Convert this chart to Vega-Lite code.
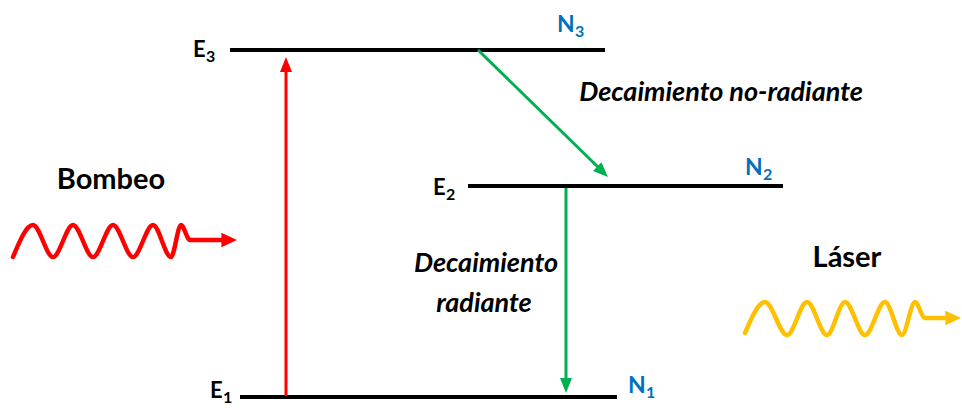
{
  "$schema": "https://vega.github.io/schema/vega-lite/v6.json",
  "width": 962,
  "height": 410,
  "padding": 0,
  "autosize": {"type": "none"},
  "background": "white",
  "config": {"view": {"stroke": null}},
  "datasets": {
    "niveles": [
      {"nivel": "E3", "x": 230, "y": 50, "x2": 605, "y2": 50},
      {"nivel": "E2", "x": 468, "y": 186, "x2": 783, "y2": 186},
      {"nivel": "E1", "x": 240, "y": 397, "x2": 617, "y2": 397}
    ],
    "flechas": [
      {"flecha": "Bombeo", "tipo": "bombeo", "x": 286, "y": 396, "x2": 286, "y2": 69},
      {"flecha": "Decaimiento no-radiante", "tipo": "decaimiento", "x": 478, "y": 50, "x2": 599, "y2": 168},
      {"flecha": "Decaimiento radiante", "tipo": "decaimiento", "x": 566, "y": 188, "x2": 566, "y2": 381}
    ],
    "puntas": [
      {"flecha": "Bombeo", "tipo": "bombeo", "x": 286, "y": 57, "dir": "arriba"},
      {"flecha": "Decaimiento no-radiante", "tipo": "decaimiento", "x": 608, "y": 177, "dir": "diagonal"},
      {"flecha": "Decaimiento radiante", "tipo": "decaimiento", "x": 566, "y": 393, "dir": "abajo"},
      {"flecha": "Onda bombeo", "tipo": "bombeo", "x": 237, "y": 240, "dir": "derecha"},
      {"flecha": "Onda láser", "tipo": "laser", "x": 961, "y": 318, "dir": "derecha"}
    ],
    "ondas": [
      {"tipo": "bombeo", "x": 13, "y": 257},
      {"tipo": "bombeo", "x": 33, "y": 225},
      {"tipo": "bombeo", "x": 53, "y": 257},
      {"tipo": "bombeo", "x": 73, "y": 225},
      {"tipo": "bombeo", "x": 93, "y": 257},
      {"tipo": "bombeo", "x": 113, "y": 225},
      {"tipo": "bombeo", "x": 133, "y": 257},
      {"tipo": "bombeo", "x": 153, "y": 225},
      {"tipo": "bombeo", "x": 171, "y": 257},
      {"tipo": "bombeo", "x": 181, "y": 225},
      {"tipo": "bombeo", "x": 190, "y": 240},
      {"tipo": "bombeo", "x": 226, "y": 240},
      {"tipo": "laser", "x": 745, "y": 333},
      {"tipo": "laser", "x": 765, "y": 302},
      {"tipo": "laser", "x": 787, "y": 335},
      {"tipo": "laser", "x": 807, "y": 302},
      {"tipo": "laser", "x": 827, "y": 335},
      {"tipo": "laser", "x": 845, "y": 302},
      {"tipo": "laser", "x": 865, "y": 335},
      {"tipo": "laser", "x": 885, "y": 302},
      {"tipo": "laser", "x": 902, "y": 335},
      {"tipo": "laser", "x": 915, "y": 302},
      {"tipo": "laser", "x": 925, "y": 318},
      {"tipo": "laser", "x": 950, "y": 318}
    ],
    "etiquetas": [
      {"clase": "E", "letra": "E", "sub": "3", "x": 193, "y": 57},
      {"clase": "E", "letra": "E", "sub": "2", "x": 433, "y": 195},
      {"clase": "E", "letra": "E", "sub": "1", "x": 210, "y": 398},
      {"clase": "N", "letra": "N", "sub": "3", "x": 557, "y": 32},
      {"clase": "N", "letra": "N", "sub": "2", "x": 745, "y": 175},
      {"clase": "N", "letra": "N", "sub": "1", "x": 628, "y": 393}
    ],
    "titulos": [
      {"texto": "Bombeo", "x": 111, "y": 189},
      {"texto": "Láser", "x": 847, "y": 267}
    ],
    "procesos": [
      {"texto": "Decaimiento no-radiante", "x": 721, "y": 101},
      {"texto": "Decaimiento", "x": 486, "y": 272},
      {"texto": "radiante", "x": 484, "y": 312}
    ]
  },
  "encoding": {
    "x": {"field": "x", "type": "quantitative", "scale": {"domain": [0, 962], "nice": false, "zero": false}, "axis": null},
    "y": {"field": "y", "type": "quantitative", "scale": {"domain": [0, 410], "nice": false, "zero": false, "reverse": true}, "axis": null}
  },
  "layer": [
    {
      "data": {"name": "niveles"},
      "mark": {"type": "rule", "color": "#000000", "strokeWidth": 4},
      "encoding": {"x2": {"field": "x2"}, "y2": {"field": "y2"}}
    },
    {
      "data": {"name": "flechas"},
      "mark": {"type": "rule", "strokeWidth": 3},
      "encoding": {
        "x2": {"field": "x2"},
        "y2": {"field": "y2"},
        "color": {"field": "tipo", "type": "nominal", "scale": {"domain": ["nivel", "bombeo", "decaimiento", "laser"], "range": ["#000000", "#ff0000", "#00b050", "#ffc000"]}, "legend": null}
      }
    },
    {
      "data": {"name": "ondas"},
      "mark": {"type": "line", "interpolate": "monotone", "strokeWidth": 4.5, "strokeCap": "round", "strokeJoin": "round"},
      "encoding": {
        "color": {"field": "tipo", "type": "nominal", "scale": {"domain": ["nivel", "bombeo", "decaimiento", "laser"], "range": ["#000000", "#ff0000", "#00b050", "#ffc000"]}, "legend": null}
      }
    },
    {
      "data": {"name": "puntas"},
      "transform": [{"filter": "datum.dir === 'arriba'"}],
      "mark": {"type": "point", "shape": "M0,0L-0.5,1.25L0.5,1.25Z", "filled": true, "opacity": 1, "size": 576, "angle": 0},
      "encoding": {
        "color": {"field": "tipo", "type": "nominal", "scale": {"domain": ["nivel", "bombeo", "decaimiento", "laser"], "range": ["#000000", "#ff0000", "#00b050", "#ffc000"]}, "legend": null}
      }
    },
    {
      "data": {"name": "puntas"},
      "transform": [{"filter": "datum.dir === 'derecha'"}],
      "mark": {"type": "point", "shape": "M0,0L-0.55,1.2L0.55,1.2Z", "filled": true, "opacity": 1, "size": 676, "angle": 90},
      "encoding": {
        "color": {"field": "tipo", "type": "nominal", "scale": {"domain": ["nivel", "bombeo", "decaimiento", "laser"], "range": ["#000000", "#ff0000", "#00b050", "#ffc000"]}, "legend": null}
      }
    },
    {
      "data": {"name": "puntas"},
      "transform": [{"filter": "datum.dir === 'diagonal'"}],
      "mark": {"type": "point", "shape": "M0,0L-0.5,1.25L0.5,1.25Z", "filled": true, "opacity": 1, "size": 576, "angle": 134},
      "encoding": {
        "color": {"field": "tipo", "type": "nominal", "scale": {"domain": ["nivel", "bombeo", "decaimiento", "laser"], "range": ["#000000", "#ff0000", "#00b050", "#ffc000"]}, "legend": null}
      }
    },
    {
      "data": {"name": "puntas"},
      "transform": [{"filter": "datum.dir === 'abajo'"}],
      "mark": {"type": "point", "shape": "M0,0L-0.5,1.25L0.5,1.25Z", "filled": true, "opacity": 1, "size": 576, "angle": 180},
      "encoding": {
        "color": {"field": "tipo", "type": "nominal", "scale": {"domain": ["nivel", "bombeo", "decaimiento", "laser"], "range": ["#000000", "#ff0000", "#00b050", "#ffc000"]}, "legend": null}
      }
    },
    {
      "data": {"name": "etiquetas"},
      "transform": [{"filter": "datum.clase === 'E'"}],
      "layer": [
        {"mark": {"type": "text", "align": "left", "baseline": "alphabetic", "font": "Lato", "fontWeight": "bold", "fontSize": 22, "fill": "#000000"},
         "encoding": {"text": {"field": "letra"}}},
        {"mark": {"type": "text", "align": "left", "baseline": "alphabetic", "font": "Lato", "fontWeight": "bold", "fontSize": 16, "fill": "#000000", "dx": 13, "dy": 5},
         "encoding": {"text": {"field": "sub"}}}
      ]
    },
    {
      "data": {"name": "etiquetas"},
      "transform": [{"filter": "datum.clase === 'N'"}],
      "layer": [
        {"mark": {"type": "text", "align": "left", "baseline": "alphabetic", "font": "Lato", "fontWeight": "bold", "fontSize": 23, "fill": "#0070c0"},
         "encoding": {"text": {"field": "letra"}}},
        {"mark": {"type": "text", "align": "left", "baseline": "alphabetic", "font": "Lato", "fontWeight": "bold", "fontSize": 16, "fill": "#0070c0", "dx": 18, "dy": 5},
         "encoding": {"text": {"field": "sub"}}}
      ]
    },
    {
      "data": {"name": "titulos"},
      "mark": {"type": "text", "align": "center", "baseline": "alphabetic", "font": "Lato", "fontWeight": "bold", "fontSize": 29, "fill": "#000000"},
      "encoding": {"text": {"field": "texto"}}
    },
    {
      "data": {"name": "procesos"},
      "mark": {"type": "text", "align": "center", "baseline": "alphabetic", "font": "Lato", "fontWeight": "bold", "fontStyle": "italic", "fontSize": 27, "fill": "#000000"},
      "encoding": {"text": {"field": "texto"}}
    }
  ]
}
